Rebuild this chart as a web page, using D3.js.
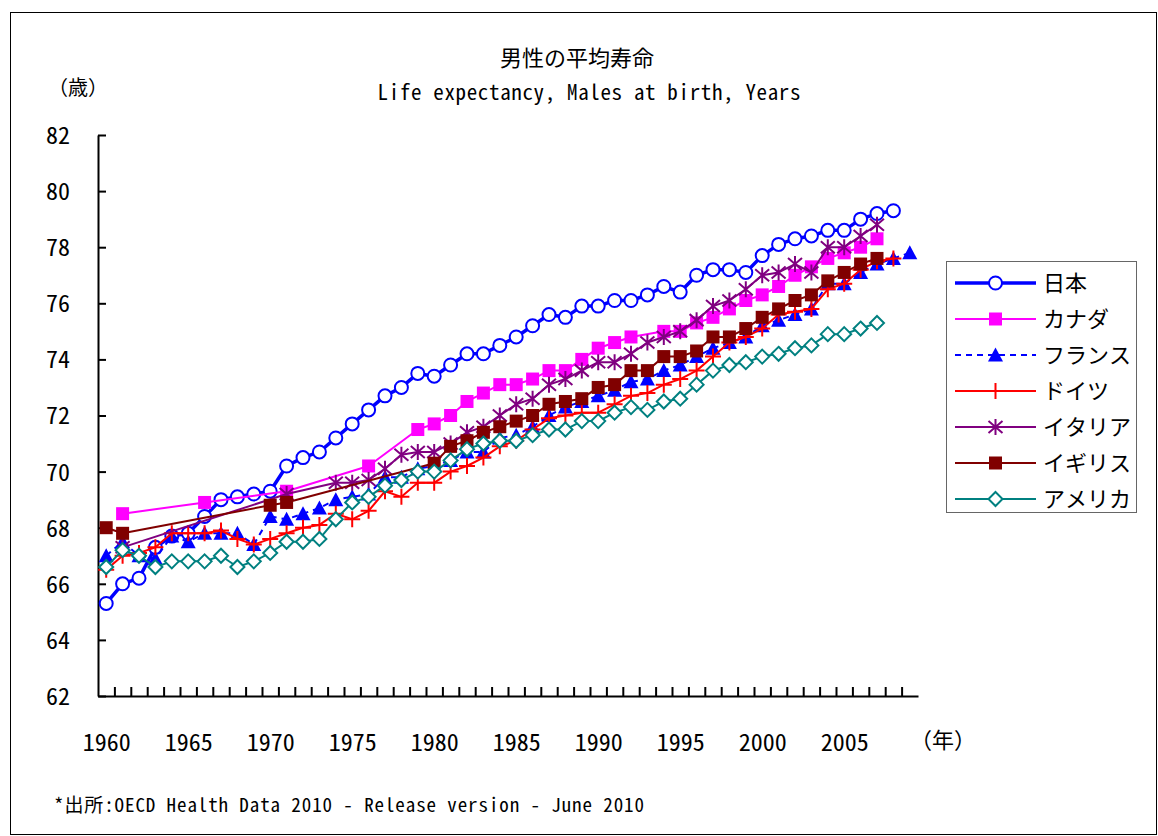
<!DOCTYPE html>
<html>
<head>
<meta charset="utf-8">
<script src="https://cdn.jsdelivr.net/npm/d3@7"></script>
<style>
  body { margin: 0; background: #fff; }
  text { font-family: "Noto Sans Mono CJK JP", "Noto Sans CJK JP", "DejaVu Sans Mono", monospace; fill: #000; }
</style>
</head>
<body>
<svg id="chart" width="1158" height="836"></svg>
<script>
// Male life expectancy at birth, 1960-2009 (null = no figure for that year)
const years = d3.range(1960, 2010);

const japan = [
  65.3, 66.0, 66.2, 67.3, 67.7, 67.8, 68.4, 69.0, 69.1, 69.2,
  69.3, 70.2, 70.5, 70.7, 71.2, 71.7, 72.2, 72.7, 73.0, 73.5,
  73.4, 73.8, 74.2, 74.2, 74.5, 74.8, 75.2, 75.6, 75.5, 75.9,
  75.9, 76.1, 76.1, 76.3, 76.6, 76.4, 77.0, 77.2, 77.2, 77.1,
  77.7, 78.1, 78.3, 78.4, 78.6, 78.6, 79.0, 79.2, 79.3, null
];
const canada = [
  null, 68.5, null, null, null, null, 68.9, null, null, null,
  null, 69.3, null, null, null, null, 70.2, null, null, 71.5,
  71.7, 72.0, 72.5, 72.8, 73.1, 73.1, 73.3, 73.6, 73.6, 74.0,
  74.4, 74.6, 74.8, null, 75.0, 75.0, 75.3, 75.5, 75.8, 76.1,
  76.3, 76.6, 77.0, 77.3, 77.6, 77.8, 78.0, 78.3, null, null
];
const france = [
  67.0, 67.5, 67.0, 66.9, 67.7, 67.5, 67.8, 67.8, 67.8, 67.4,
  68.4, 68.3, 68.5, 68.7, 69.0, 69.1, 69.2, 69.8, 69.8, 70.1,
  70.2, 70.4, 70.7, 70.7, 71.2, 71.3, 71.6, 72.0, 72.3, 72.5,
  72.7, 72.9, 73.2, 73.3, 73.6, 73.8, 74.1, 74.4, 74.6, 74.8,
  75.2, 75.4, 75.6, 75.8, 76.7, 76.7, 77.1, 77.4, 77.6, 77.8
];
const germany = [
  66.5, 67.0, 67.1, 67.3, 67.8, 67.8, 67.8, 67.9, 67.6, 67.4,
  67.6, 67.8, 68.0, 68.1, 68.5, 68.3, 68.6, 69.3, 69.1, 69.6,
  69.6, 70.0, 70.2, 70.5, 70.9, 71.1, 71.5, 71.9, 72.0, 72.1,
  72.1, 72.4, 72.7, 72.8, 73.1, 73.3, 73.6, 74.1, 74.6, 74.8,
  75.1, 75.6, 75.7, 75.8, 76.5, 76.7, 77.2, 77.5, 77.6, null
];
const italy = [
  null, 67.3, null, null, null, null, null, null, null, null,
  null, 69.2, null, null, 69.6, 69.6, 69.7, 70.1, 70.6, 70.7,
  70.7, 71.0, 71.4, 71.6, 72.0, 72.4, 72.6, 73.1, 73.3, 73.6,
  73.9, 73.9, 74.2, 74.6, 74.8, 75.0, 75.4, 75.9, 76.1, 76.5,
  77.0, 77.1, 77.4, 77.1, 78.0, 78.0, 78.4, 78.8, null, null
];
const uk = [
  68.0, 67.8, null, null, null, null, null, null, null, null,
  68.8, 68.9, null, null, null, null, null, null, null, null,
  70.3, 70.9, 71.1, 71.4, 71.6, 71.8, 72.0, 72.4, 72.5, 72.6,
  73.0, 73.1, 73.6, 73.6, 74.1, 74.1, 74.3, 74.8, 74.8, 75.1,
  75.5, 75.8, 76.1, 76.3, 76.8, 77.1, 77.4, 77.6, null, null
];
const usa = [
  66.6, 67.2, 67.0, 66.6, 66.8, 66.8, 66.8, 67.0, 66.6, 66.8,
  67.1, 67.5, 67.5, 67.6, 68.3, 68.9, 69.1, 69.5, 69.7, 70.0,
  70.0, 70.4, 70.8, 71.0, 71.1, 71.1, 71.3, 71.5, 71.5, 71.8,
  71.8, 72.1, 72.3, 72.2, 72.5, 72.6, 73.1, 73.6, 73.8, 73.9,
  74.1, 74.2, 74.4, 74.5, 74.9, 74.9, 75.1, 75.3, null, null
];

const seriesNames = ["日本", "カナダ", "フランス", "ドイツ", "イタリア", "イギリス", "アメリカ"];
const seriesValues = [japan, canada, france, germany, italy, uk, usa];
const yTicks = d3.range(62, 83, 2);
const xLabelYears = d3.range(1960, 2010, 5);

// Visual style per series
const styles = [
  { color: "#0000FF", width: 3.5, dash: null,  marker: "circle" },
  { color: "#FF00FF", width: 2,   dash: null,  marker: "square" },
  { color: "#0000FF", width: 2,   dash: "6,5", marker: "triangle" },
  { color: "#FF0000", width: 2,   dash: null,  marker: "plus" },
  { color: "#800080", width: 2,   dash: null,  marker: "asterisk" },
  { color: "#800000", width: 2,   dash: null,  marker: "square" },
  { color: "#008080", width: 2,   dash: null,  marker: "diamond" }
];

const svg = d3.select("#chart");

// Outer frame
svg.append("rect")
  .attr("x", 10.5).attr("y", 12.5).attr("width", 1146).attr("height", 822)
  .attr("fill", "#fff").attr("stroke", "#000").attr("stroke-width", 1);

const plot = { left: 98, right: 918, top: 135, bottom: 696 };

const x = d3.scaleLinear().domain([1959.5, 2009.5]).range([plot.left, plot.right]);
const y = d3.scaleLinear().domain([62, 82]).range([plot.bottom, plot.top]);

// Y axis: ticks point inward
const yAxis = svg.append("g")
  .attr("transform", `translate(${plot.left},0)`)
  .call(d3.axisLeft(y).tickValues(yTicks).tickSizeInner(-8).tickSizeOuter(0).tickPadding(28));
yAxis.select(".domain").attr("stroke", "#000").attr("stroke-width", 2);
yAxis.selectAll(".tick line").attr("stroke", "#000").attr("stroke-width", 2);
yAxis.selectAll(".tick text").attr("font-size", 24).attr("dy", "0.35em");

// X axis: category boundary ticks pointing inward
const xAxis = svg.append("g")
  .attr("transform", `translate(0,${plot.bottom})`)
  .call(d3.axisBottom(x).tickValues(d3.range(1960.5, 2009.5, 1))
    .tickSizeInner(-9).tickSizeOuter(0).tickFormat(""));
xAxis.select(".domain").attr("stroke", "#000").attr("stroke-width", 2);
xAxis.selectAll(".tick line").attr("stroke", "#000").attr("stroke-width", 2);

// Year labels every five years
const xLab = svg.append("g")
  .attr("transform", `translate(0,${plot.bottom})`)
  .call(d3.axisBottom(x).tickValues(xLabelYears).tickSize(0).tickPadding(38).tickFormat(d3.format("d")));
xLab.select(".domain").remove();
xLab.selectAll(".tick text").attr("font-size", 24);

// Marker drawing
function drawMarker(g, type, color) {
  switch (type) {
    case "circle":
      g.append("circle").attr("r", 6.5).attr("fill", "#fff").attr("stroke", color).attr("stroke-width", 2);
      break;
    case "square":
      g.append("rect").attr("x", -6.5).attr("y", -6.5).attr("width", 13).attr("height", 13).attr("fill", color);
      break;
    case "triangle":
      g.append("path").attr("d", "M0,-7.5L7.5,6.5L-7.5,6.5Z").attr("fill", color);
      break;
    case "plus":
      g.append("path").attr("d", "M-8,0H8M0,-8V8").attr("stroke", color).attr("stroke-width", 2).attr("fill", "none");
      break;
    case "asterisk":
      g.append("path").attr("d", "M0,-8V8M-7,-6L7,6M-7,6L7,-6").attr("stroke", color).attr("stroke-width", 2).attr("fill", "none");
      break;
    case "diamond":
      g.append("path").attr("d", "M0,-7L7,0L0,7L-7,0Z").attr("fill", "#fff").attr("stroke", color).attr("stroke-width", 2);
      break;
  }
}

const line = d3.line().x(d => x(d.year)).y(d => y(d.value));

seriesValues.forEach((vals, i) => {
  const st = styles[i];
  const pts = years.map((yr, j) => ({ year: yr, value: vals[j] })).filter(d => d.value !== null);
  const g = svg.append("g").attr("class", "series");
  g.append("path").datum(pts)
    .attr("d", line)
    .attr("fill", "none")
    .attr("stroke", st.color)
    .attr("stroke-width", st.width)
    .attr("stroke-dasharray", st.dash)
    .attr("stroke-linejoin", "round");
  g.selectAll("g.m").data(pts).join("g")
    .attr("class", "m")
    .attr("transform", d => `translate(${x(d.year)},${y(d.value)})`)
    .each(function () { drawMarker(d3.select(this), st.marker, st.color); });
});

// Legend
const legend = svg.append("g");
legend.append("rect")
  .attr("x", 946.5).attr("y", 261.5).attr("width", 190).attr("height", 251)
  .attr("fill", "#fff").attr("stroke", "#666").attr("stroke-width", 1);
seriesNames.forEach((name, i) => {
  const st = styles[i];
  const ly = 283 + i * 36;
  const row = legend.append("g").attr("transform", `translate(0,${ly})`);
  row.append("line").attr("x1", 955).attr("x2", 1036).attr("y1", 0).attr("y2", 0)
    .attr("stroke", st.color).attr("stroke-width", st.width).attr("stroke-dasharray", st.dash);
  drawMarker(row.append("g").attr("transform", "translate(995.5,0)"), st.marker, st.color);
  row.append("text").attr("x", 1043).attr("y", 0).attr("dy", "0.35em")
    .attr("font-size", 22).text(name);
});

// Titles and notes
svg.append("text").attr("x", 577).attr("y", 58).attr("dy", "0.35em")
  .attr("text-anchor", "middle").attr("font-size", 22).text("男性の平均寿命");
svg.append("text").attr("x", 589).attr("y", 93).attr("dy", "0.35em")
  .attr("text-anchor", "middle").attr("font-size", 21)
  .attr("textLength", 423).attr("lengthAdjust", "spacing")
  .text("Life expectancy, Males at birth, Years");
svg.append("text").attr("x", 48).attr("y", 88).attr("dy", "0.35em")
  .attr("font-size", 20).text("（歳）");
svg.append("text").attr("x", 943).attr("y", 740).attr("dy", "0.35em")
  .attr("text-anchor", "middle").attr("font-size", 22).text("（年）");
svg.append("text").attr("x", 54).attr("y", 805).attr("dy", "0.35em")
  .attr("font-size", 19).attr("textLength", 590).attr("lengthAdjust", "spacing")
  .text("*出所:OECD Health Data 2010 - Release version - June 2010");
</script>
</body>
</html>
